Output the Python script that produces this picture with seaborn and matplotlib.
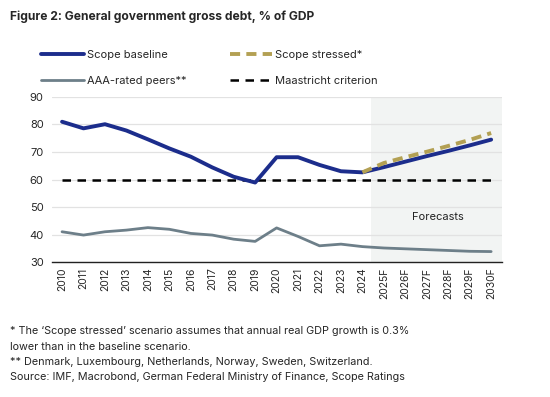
import matplotlib
matplotlib.use("Agg")
import matplotlib.pyplot as plt
import pandas as pd
import seaborn as sns

years = ["2010", "2011", "2012", "2013", "2014", "2015", "2016", "2017", "2018", "2019",
         "2020", "2021", "2022", "2023", "2024", "2025F", "2026F", "2027F", "2028F", "2029F", "2030F"]
baseline = [81.0, 78.6, 80.1, 77.8, 74.6, 71.3, 68.3, 64.4, 61.0, 58.9,
            68.1, 68.1, 65.3, 63.0, 62.6, 64.5, 66.5, 68.5, 70.4, 72.4, 74.5]
stressed_years = ["2024", "2025F", "2026F", "2027F", "2028F", "2029F", "2030F"]
stressed = [62.6, 66.0, 68.1, 70.1, 72.2, 74.4, 76.9]
peers = [41.0, 39.8, 41.0, 41.6, 42.5, 41.9, 40.4, 39.8, 38.3, 37.5,
         42.4, 39.3, 35.9, 36.5, 35.6, 35.1, 34.8, 34.5, 34.2, 33.9, 33.8]
maastricht = [60] * len(years)

NAVY = "#1c2d8c"
GOLD = "#b3a053"
GREY = "#6d7f89"

sns.set_theme(style="white")
plt.rcParams["font.family"] = ["Inter", "DejaVu Sans"]

df = pd.DataFrame({"x": range(len(years)), "year": years, "baseline": baseline,
                   "peers": peers, "maastricht": maastricht})
dfs = pd.DataFrame({"x": [years.index(y) for y in stressed_years], "stressed": stressed})

fig = plt.figure(figsize=(5.5, 3.97), dpi=100)
ax = fig.add_axes([0.0945, 0.34, 0.818, 0.4157])

# forecast shading
ax.axvspan(14.4, 20.5, color="#f2f4f3", zorder=0, lw=0)

sns.lineplot(data=df, x="x", y="maastricht", ax=ax, color="black", lw=1.8,
             dashes=False, label="Maastricht criterion")
ax.lines[-1].set_dashes([3.4, 2.6])
sns.lineplot(data=df, x="x", y="peers", ax=ax, color=GREY, lw=2.0, label="AAA-rated peers**")
sns.lineplot(data=df, x="x", y="baseline", ax=ax, color=NAVY, lw=2.8, label="Scope baseline")
sns.lineplot(data=dfs, x="x", y="stressed", ax=ax, color=GOLD, lw=2.8, label="Scope stressed*")
ax.lines[-1].set_dashes([2.6, 1.6])

ax.set_xlim(-0.47, 20.5)
ax.set_ylim(30, 90)
ax.set_yticks(range(30, 91, 10))
ax.set_xticks(range(len(years)))
ax.set_xticklabels(years, rotation=90, fontsize=7.5)
ax.tick_params(axis="y", labelsize=8, length=0, pad=6)
ax.tick_params(axis="x", length=0, pad=4)
ax.set_xlabel("")
ax.set_ylabel("")
ax.yaxis.grid(True, color="#e2e2e2", lw=0.9)
ax.set_axisbelow(True)
for s in ["left", "right", "top"]:
    ax.spines[s].set_visible(False)
ax.spines["bottom"].set_color("#222222")
ax.spines["bottom"].set_linewidth(1.0)

ax.text(17.5, 46.5, "Forecasts", fontsize=8, ha="center", va="center", color="#222222")

h, l = ax.get_legend_handles_labels()
order = [l.index("Scope baseline"), l.index("AAA-rated peers**"),
         l.index("Scope stressed*"), l.index("Maastricht criterion")]
ax.get_legend().remove()
fig.legend([h[i] for i in order], [l[i] for i in order], ncol=2,
           loc="upper left", bbox_to_anchor=(0.057, 0.9), frameon=False,
           fontsize=8, handlelength=3.8, handletextpad=0.3, columnspacing=3.9,
           labelspacing=1.45)

fig.text(0.018, 0.958, "Figure 2: General government gross debt, % of GDP",
         fontsize=8.7, fontweight="bold", ha="left", va="center")
notes = ["* The \u2018Scope stressed\u2019 scenario assumes that annual real GDP growth is 0.3%",
         "lower than in the baseline scenario.",
         "** Denmark, Luxembourg, Netherlands, Norway, Sweden, Switzerland.",
         "Source: IMF, Macrobond, German Federal Ministry of Finance, Scope Ratings"]
for i, n in enumerate(notes):
    fig.text(0.018, 1 - (331.5 + i * 15.2) / 397, n, fontsize=7.8, ha="left", va="center")

fig.savefig("out.png", dpi=100)
